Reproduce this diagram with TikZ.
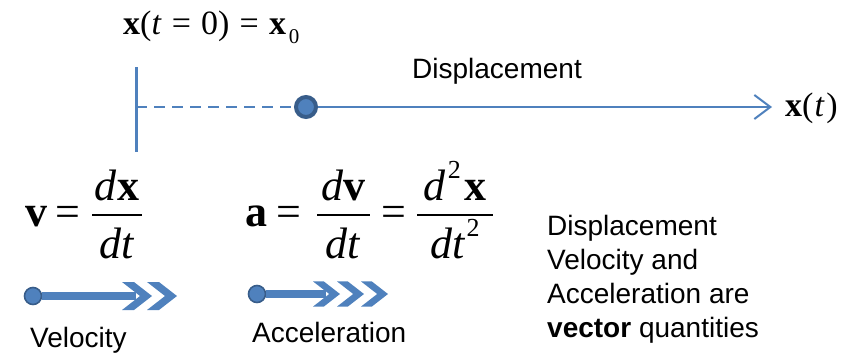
\documentclass[tikz,border=0pt]{standalone}
\usepackage{fontspec}
\setmainfont{Liberation Sans}
\newfontfamily\tms{Liberation Serif}
\usetikzlibrary{arrows.meta}
\definecolor{lineblue}{RGB}{79,129,189}
\definecolor{darkblue}{RGB}{56,93,138}
\newcommand\supr[1]{\raisebox{0.5em}{\fontsize{26}{26}\selectfont #1}}
\begin{document}
\begin{tikzpicture}[x=1pt,y=-1pt,
  sans/.style={font=\fontsize{28}{34}\selectfont, inner sep=0pt},
  eq/.style={font=\tms\fontsize{44}{44}\selectfont, inner sep=0pt},
  lbl/.style={font=\tms\fontsize{34}{34}\selectfont, inner sep=0pt},
  dot/.style={circle, fill=lineblue, draw=darkblue, line width=1.6pt, minimum size=17pt, inner sep=0pt},
  bigdot/.style={circle, fill=lineblue, draw=darkblue, line width=4pt, minimum size=20pt, inner sep=0pt},
  fracbar/.style={line width=1.6pt},
  thin line/.style={lineblue, line width=2pt},
  thick shaft/.style={lineblue, line width=7.5pt},
  chev/.pic={\fill[lineblue] (0,-14) -- (12,-14) -- (30,0) -- (12,14) -- (0,14) -- (18,0) -- cycle;}
]
\useasboundingbox (0,0) rectangle (852,359);

% ---------- top: displacement axis ----------
\node[lbl, anchor=base west] (x0lbl) at (123,34)
  {\textbf{x}(\textit{t}\kern.3em=\kern.3em0)\kern.3em=\kern.3em\textbf{x}\kern.08em\raisebox{-.28em}{\fontsize{21}{21}\selectfont 0}};
\coordinate (vtop) at (136,67);
\coordinate (vbot) at (136,152);
\coordinate (o) at (136,107);
\node[bigdot] (p0) at (306,107) {};
\coordinate (tip) at (772,107);
\node[lbl, anchor=base west] (xt) at (785,116) {\textbf{x}(\kern.03em\textit{t}\kern.05em)};
\node[sans, anchor=base west] (displ) at (412,78) {Displacement};

\draw[lineblue, line width=3pt] (vtop) -- (vbot);
\draw[thin line, dash pattern=on 11pt off 7pt] (o) -- (p0);
\draw[thin line, -{Straight Barb[length=16pt,width=24pt]}] (p0) -- (tip);

% ---------- v = dx/dt ----------
\node[eq, anchor=base west] (v) at (25,226) {\textbf{v}};
\node[eq, anchor=base] (eq1) at (67.5,226) {=};
\node[eq, anchor=base] (n1) at (117,200) {\textit{d}\textbf{x}};
\node[eq, anchor=base] (d1) at (117,258) {\textit{dt}};
\draw[fracbar] (92,215) -- (142,215);

% ---------- a = dv/dt = d2x/dt2 ----------
\node[eq, anchor=base west] (a) at (245,226) {\textbf{a}};
\node[eq, anchor=base] (eq2) at (288.5,226) {=};
\node[eq, anchor=base] (n2) at (343.5,200) {\textit{d}\textbf{v}};
\node[eq, anchor=base] (d2) at (343.5,258) {\textit{dt}};
\draw[fracbar] (317,215) -- (370,215);
\node[eq, anchor=base] (eq3) at (393.5,226) {=};
\node[eq, anchor=base] (n3) at (455,200) {\textit{d}\kern.05em\supr{2}\kern.08em\textbf{x}};
\node[eq, anchor=base] (d3) at (455,258) {\textit{dt}\kern.03em\supr{2}};
\draw[fracbar] (417,215) -- (493,215);

% ---------- velocity arrow ----------
\node[dot] (vd) at (33,296) {};
\coordinate (vend) at (136,296);
\draw[thick shaft] (vd) -- (vend);
\pic at (122,296) {chev};
\pic at (147,296) {chev};
\node[sans, anchor=base west] (vlbl) at (30,347) {Velocity};

% ---------- acceleration arrow ----------
\node[dot] (ad) at (257,294) {};
\coordinate (aend) at (326,294);
\draw[thick shaft] (ad) -- (aend);
\pic[scale=0.9] at (313,294) {chev};
\pic[scale=0.9] at (337,294) {chev};
\pic[scale=0.9] at (361,294) {chev};
\node[sans, anchor=base west] (albl) at (252,342) {Acceleration};

% ---------- note ----------
\node[sans, anchor=base west, align=left] (note) at (547,337)
  {Displacement\\Velocity and\\Acceleration are\\\textbf{vector} quantities};
\end{tikzpicture}
\end{document}
